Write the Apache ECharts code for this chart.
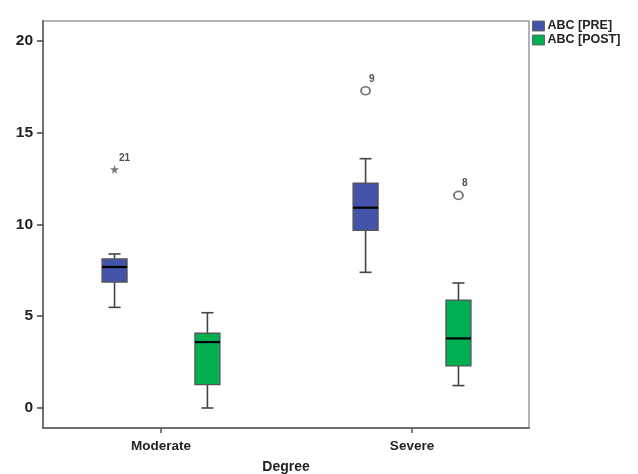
<!DOCTYPE html>
<html><head><meta charset="utf-8">
<script src="https://cdn.jsdelivr.net/npm/echarts@6/dist/echarts.min.js"></script>
<style>html,body{margin:0;padding:0;background:#fff}#c{width:638px;height:474px}</style>
</head><body><div id="c"></div>
<script>
var categories = ['Moderate', 'Severe'];
var seriesNames = ['ABC [PRE]', 'ABC [POST]'];
// [min, Q1, median, Q3, max]
var preStats = [[5.48, 6.86, 7.68, 8.12, 8.39], [7.39, 9.68, 10.91, 12.25, 13.58]];
var postStats = [[0.0, 1.27, 3.59, 4.07, 5.19], [1.22, 2.29, 3.79, 5.88, 6.81]];
// [category index, value, case label]
var preOutliers = [[0, 13.0, '21'], [1, 17.28, '9']];
var postOutliers = [[1, 11.58, '8']];
var preOutlierKinds = ['star', 'circle'];
var postOutlierKinds = ['circle'];
var yTicks = [0, 5, 10, 15, 20];

var colors = ['#4454a8', '#00b050'];
var offsets = [-0.185, 0.185];
var starPath = 'path://M50,0 L61,35 L98,35 L68,57 L79,91 L50,70 L21,91 L32,57 L2,35 L39,35 Z';

function boxData(stats, off) {
  return stats.map(function (s, i) { return [i + 1 + off].concat(s); });
}
function renderBox(params, api) {
  var x = api.value(0);
  var lo = api.coord([x, api.value(1)]);
  var q1 = api.coord([x, api.value(2)]);
  var md = api.coord([x, api.value(3)]);
  var q3 = api.coord([x, api.value(4)]);
  var hi = api.coord([x, api.value(5)]);
  var cx = lo[0], bw = 25, cw = 12;
  var ws = { stroke: '#444', lineWidth: 1.6 };
  return {
    type: 'group',
    children: [
      { type: 'line', shape: { x1: cx, y1: hi[1], x2: cx, y2: q3[1] }, style: ws },
      { type: 'line', shape: { x1: cx, y1: q1[1], x2: cx, y2: lo[1] }, style: ws },
      { type: 'line', shape: { x1: cx - cw / 2, y1: hi[1], x2: cx + cw / 2, y2: hi[1] }, style: ws },
      { type: 'line', shape: { x1: cx - cw / 2, y1: lo[1], x2: cx + cw / 2, y2: lo[1] }, style: ws },
      { type: 'rect', shape: { x: cx - bw / 2, y: q3[1], width: bw, height: q1[1] - q3[1] },
        style: { fill: api.visual('color'), stroke: '#555', lineWidth: 1.3 } },
      { type: 'line', shape: { x1: cx - bw / 2, y1: md[1], x2: cx + bw / 2, y2: md[1] },
        style: { stroke: '#000', lineWidth: 2.2 } }
    ]
  };
}
function outlierData(list, kinds, off) {
  return list.map(function (o, i) {
    var star = kinds[i] === 'star';
    return {
      value: [o[0] + 1 + off, o[1]],
      name: o[2],
      symbol: star ? starPath : 'circle',
      symbolSize: star ? 9 : [9, 8],
      itemStyle: star ? { color: '#555', borderWidth: 0 } : { color: '#fff', borderColor: '#555', borderWidth: 1.8 }
    };
  });
}
var labelStyle = {
  show: true, position: [9, -12], formatter: '{b}',
  fontFamily: 'Liberation Sans', fontWeight: 'bold', fontSize: 10, color: '#222'
};

var chart = echarts.init(document.getElementById('c'), null, { renderer: 'canvas' });
chart.setOption({
  animation: false,
  backgroundColor: '#fff',
  grid: { left: 43, top: 21, right: 109, bottom: 46, show: true, borderColor: '#9a9a9a', borderWidth: 1.5,
          containLabel: false, outerBoundsMode: 'none' },
  legend: {
    orient: 'vertical', left: 532, top: 19, padding: 0, itemWidth: 12, itemHeight: 10, itemGap: 0,
    icon: 'rect',
    data: seriesNames.map(function (n, i) {
      return { name: n, itemStyle: { color: colors[i], borderColor: '#666', borderWidth: 1 } };
    }),
    textStyle: { fontFamily: 'Liberation Sans', fontWeight: 'bold', fontSize: 12.5, lineHeight: 14, color: '#222', padding: [0, 0, 0, -2] }
  },
  xAxis: {
    type: 'value', min: 0.53, max: 2.466,
    name: 'Degree', nameLocation: 'middle', nameGap: 32,
    nameTextStyle: { fontFamily: 'Liberation Sans', fontWeight: 'bold', fontSize: 14, color: '#222' },
    axisLine: { show: true, onZero: false, lineStyle: { color: '#707070', width: 2 } },
    axisTick: { show: true, length: 5, customValues: [1, 2], lineStyle: { color: '#555', width: 1.5 } },
    axisLabel: {
      customValues: [1, 2], margin: 11,
      formatter: function (v) { return categories[Math.round(v) - 1] || ''; },
      fontFamily: 'Liberation Sans', fontWeight: 'bold', fontSize: 13.5, color: '#222'
    },
    splitLine: { show: false }
  },
  yAxis: {
    type: 'value', min: -1.09, max: 21.08,
    axisLine: { show: true, onZero: false, lineStyle: { color: '#707070', width: 2 } },
    axisTick: { show: true, length: 6, customValues: yTicks, lineStyle: { color: '#444', width: 1.5 } },
    axisLabel: {
      customValues: yTicks, margin: 10,
      fontFamily: 'Liberation Sans', fontWeight: 'bold', fontSize: 15.5, color: '#222'
    },
    splitLine: { show: false }
  },
  series: [
    { name: seriesNames[0], type: 'custom', renderItem: renderBox, itemStyle: { color: colors[0] },
      encode: { x: 0, y: [1, 2, 3, 4, 5] }, data: boxData(preStats, offsets[0]) },
    { name: seriesNames[1], type: 'custom', renderItem: renderBox, itemStyle: { color: colors[1] },
      encode: { x: 0, y: [1, 2, 3, 4, 5] }, data: boxData(postStats, offsets[1]) },
    { name: 'outPre', type: 'scatter', data: outlierData(preOutliers, preOutlierKinds, offsets[0]), label: labelStyle, z: 5 },
    { name: 'outPost', type: 'scatter', data: outlierData(postOutliers, postOutlierKinds, offsets[1]), label: labelStyle, z: 5 }
  ]
});
</script></body></html>
